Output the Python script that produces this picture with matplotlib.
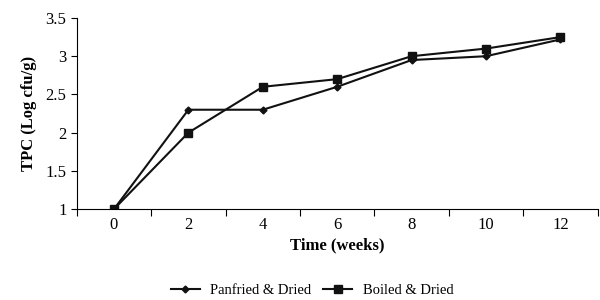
import matplotlib
matplotlib.use("Agg")
import matplotlib.pyplot as plt
import numpy as np

weeks = ["0", "2", "4", "6", "8", "10", "12"]
panfried = [1.0, 2.3, 2.3, 2.6, 2.95, 3.0, 3.22]
boiled = [1.0, 2.0, 2.6, 2.7, 3.0, 3.1, 3.25]

plt.rcParams['font.family'] = ['Liberation Serif', 'DejaVu Serif']
fig = plt.figure(figsize=(6, 3), dpi=100)
ax = fig.add_axes([0.128, 0.303, 0.868, 0.637])
x = np.arange(len(weeks))
ax.plot(x, panfried, color='#111111', lw=1.5, marker='D', ms=3.5, label='Panfried & Dried')
ax.plot(x, boiled, color='#111111', lw=1.5, marker='s', ms=6, label='Boiled & Dried')
ax.set_xlim(-0.5, len(weeks) - 0.5)
ax.set_ylim(1, 3.5)
ax.set_yticks([1, 1.5, 2, 2.5, 3, 3.5])
ax.set_yticklabels(['1', '1.5', '2', '2.5', '3', '3.5'], fontsize=12)
ax.set_xticks(np.arange(-0.5, len(weeks), 1.0))
ax.set_xticklabels([])
ax.set_xticks(x, minor=True)
ax.set_xticklabels(weeks, minor=True, fontsize=12)
ax.tick_params(axis='x', which='minor', length=0, pad=6)
ax.tick_params(axis='x', which='major', length=5, direction='out')
ax.tick_params(axis='y', length=4, direction='out')
for s in ['top', 'right']:
    ax.spines[s].set_visible(False)
ax.set_xlabel('Time (weeks)', fontsize=12, fontweight='bold', labelpad=3)
ax.set_ylabel('TPC (Log cfu/g)', fontsize=12, fontweight='bold', labelpad=6)
fig.legend(loc='lower center', bbox_to_anchor=(0.52, -0.035), ncol=2, frameon=False, fontsize=10.5, handlelength=2.0, columnspacing=0.82, handletextpad=0.7)
fig.savefig('out.png', dpi=100)
